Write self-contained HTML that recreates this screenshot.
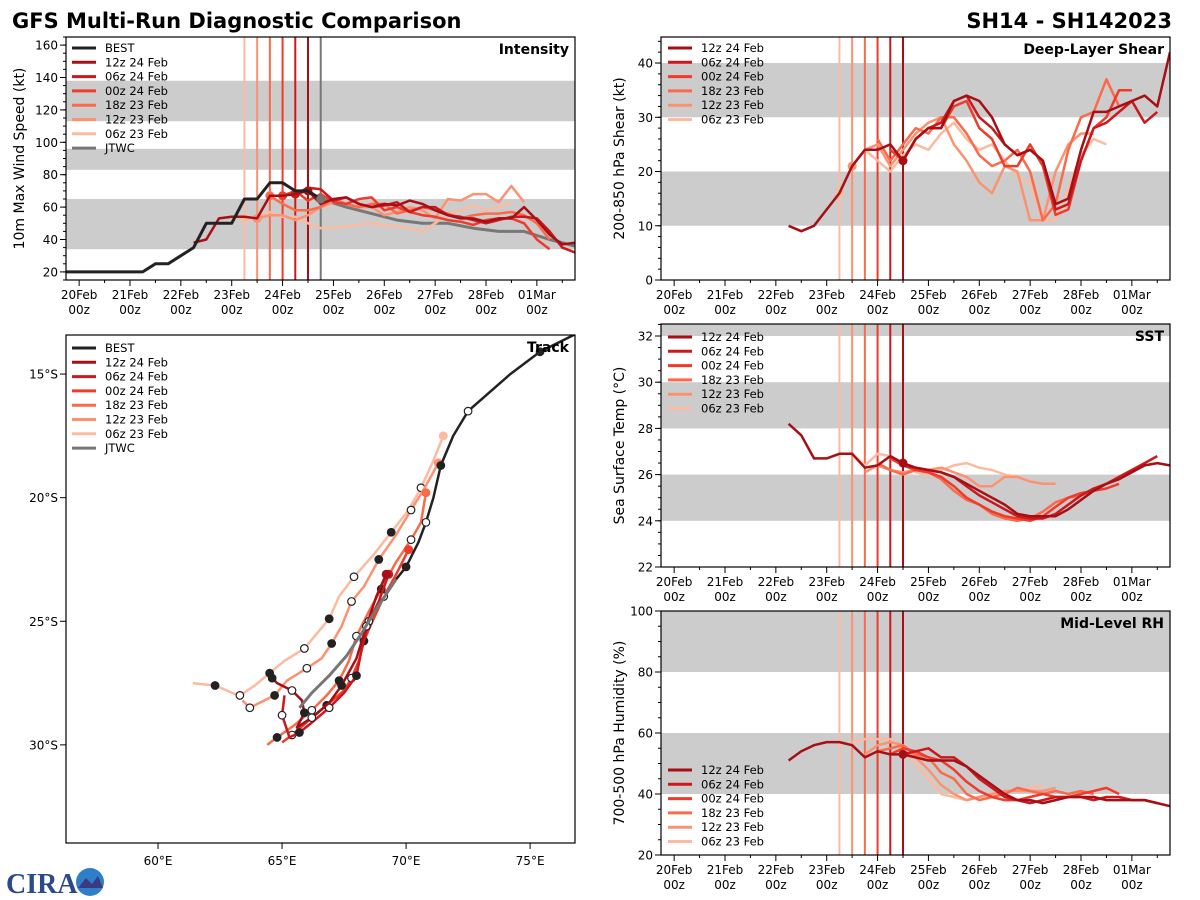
<!DOCTYPE html>
<html><head><meta charset="utf-8">
<style>
html,body{margin:0;padding:0;background:#fff;}
svg{display:block;font-family:"DejaVu Sans","Liberation Sans",sans-serif;}
</style></head>
<body>
<svg id="chart" width="1200" height="900" viewBox="0 0 1200 900" xmlns="http://www.w3.org/2000/svg">
<text x="12" y="28" font-size="21" font-weight="bold">GFS Multi-Run Diagnostic Comparison</text>
<text x="1172" y="28" font-size="21" font-weight="bold" text-anchor="end">SH14 - SH142023</text>
<g>
<text x="6" y="893" font-size="28" font-weight="bold" fill="#2a4a8a" font-family="Liberation Serif,serif">CIRA</text>
<circle cx="90" cy="882" r="14" fill="#2f7fc8"/>
<path d="M78 888 L86 878 L92 884 L98 876 L103 888 Z" fill="#3a3a80"/>
</g>
</svg>
<script>
const NS="http://www.w3.org/2000/svg";
const svg=document.getElementById('chart');
const colors=["#a50f15","#cb181d","#ef3b2c","#fb6a4a","#fc9272","#fcbba1"];
const modelNames=["12z 24 Feb","06z 24 Feb","00z 24 Feb","18z 23 Feb","12z 23 Feb","06z 23 Feb"];
const initHours=[108,102,96,90,84,78];
const dayLabels=["20Feb","21Feb","22Feb","23Feb","24Feb","25Feb","26Feb","27Feb","28Feb","01Mar"];

// Intensity
const bestHours=[-6,0,6,12,18,24,30,36,42,48,54,60,66,72,78,84,90,96,102,108,114];
const bestWind=[20,20,20,20,20,20,20,25,25,30,35,50,50,50,65,65,75,75,70,70,65];
const jtwcHours=[114,126,138,150,162,174,186,198,210,222,234];
const jtwcWind=[65,60,56,52,50,50,47,45,45,40,36];
const windStart=[54,102,96,90,84,78];
const wind12z24=[38,40,53,54,54,53,67,67,68,70,62,65,66,62,60,62,61,64,62,58,55,53,53,51,53,53,60,52,43,37,38,40];
const wind06z24=[68,72,71,64,66,62,60,61,63,57,60,60,55,54,52,50,52,54,54,53,45,35,32,30];
const wind00z24=[67,70,64,68,63,62,65,66,58,60,57,55,54,52,51,49,52,53,53,50,40,34];
const wind18z23=[67,62,58,58,60,65,62,60,62,62,56,58,60,58,56,53,55,56,56,57,55,50,40];
const wind12z23=[53,55,55,52,55,60,63,62,60,60,55,57,60,58,53,65,64,68,68,63,73,63];
const wind06z23=[53,53,57,54,54,50,47,47,48,49,50,49,48,47,45,50,56,58,61,58,60,63];
// Shear
const shearStart=[54,108,102,96,84,78];
const shear12z24=[10,9,10,13,16,21,24,24,25,22,26,28,28,33,34,33,30,25,23,24,22,14,15,24,31,31,32,33,34,32,42];
const shear06z24=[22,26,28,29,33,34,30,28,25,23,24,22,13,14,22,28,29,31,33,29,31];
const shear00z24=[24,22,26,28,28,32,33,28,26,21,21,25,21,12,13,22,28,30,35,35];
const shear18z23=[26,22,25,28,27,30,30,27,23,21,22,24,20,11,14,24,30,31,37,32];
const shear12z23=[21,24,25,21,24,27,29,30,25,22,18,16,21,20,11,11,20,25,27,27];
const shear06z23=[16,21,24,22,20,23,25,24,27,29,26,24,25,22,19,18,11,11,17,23,26,25];
// SST
const sstStart=[54,108,102,96,90,84];
const sst12z24=[28.2,27.7,26.7,26.7,26.9,26.9,26.3,26.4,26.8,26.5,26.3,26.2,26.1,25.9,25.6,25.3,25.0,24.7,24.3,24.2,24.2,24.2,24.5,24.9,25.3,25.6,25.8,26.1,26.4,26.5,26.4,26.1];
const sst06z24=[26.4,26.3,26.2,26.1,25.9,25.5,25.1,24.8,24.5,24.2,24.1,24.1,24.3,24.7,25.1,25.4,25.6,25.9,26.2,26.5,26.8];
const sst00z24=[26.7,26.4,26.2,26.1,25.9,25.5,25.0,24.7,24.4,24.2,24.1,24.0,24.2,24.6,25.0,25.2,25.3,25.4,25.6];
const sst18z23=[26.5,26.2,26.0,26.2,26.1,25.8,25.3,24.9,24.7,24.3,24.1,24.0,24.1,24.4,24.8,25.0,25.1,25.3];
const sst12z23=[26.1,26.4,26.2,26.1,26.2,26.2,26.3,26.1,25.9,25.5,25.5,25.9,25.9,25.7,25.6,25.6];
const sst06z23=[26.9,26.4,26.9,26.8,26.5,26.1,26.0,26.2,26.4,26.5,26.3,26.2,26.0,25.9,25.7,25.6];
// RH
const rhStart=[54,108,102,96,90,84];
const rh12z24=[51,54,56,57,57,56,52,54,53,53,52,51,51,51,49,46,43,40,38,38,37,38,39,39,39,38,38,38,38,37,36,37];
const rh06z24=[53,54,55,52,52,49,45,42,39,38,37,38,39,39,39,38,39,39,38,38,37];
const rh00z24=[53,55,54,52,51,48,44,41,39,38,38,39,40,39,39,40,41,42,40];
const rh18z23=[54,55,56,53,52,47,45,40,38,39,40,42,41,40,41,40,41,40];
const rh12z23=[53,56,57,56,52,48,43,40,38,39,40,41,41,41,41,42];
const rh06z23=[57,58,58,58,54,50,45,40,39,38,39,40,41,41,42,43];
// Track (lon, lat)
const trackBest=[[77.0,-13.3],[75.4,-14.1],[74.2,-15.0],[72.5,-16.5],[71.9,-17.5],[71.4,-18.7],[71.1,-20.0],[70.8,-21.0],[70.5,-21.8],[70.0,-22.8],[69.6,-23.3]];
const trackJtwc=[[69.6,-23.3],[68.8,-24.5],[68.2,-25.5],[67.6,-26.4],[66.9,-27.2],[66.2,-27.9],[65.7,-28.5]];
const track12z24=[[69.2,-23.1],[68.8,-24.0],[68.4,-25.2],[68.0,-26.5],[67.4,-27.6],[66.9,-28.3],[66.2,-28.9],[65.6,-29.3],[65.9,-28.7],[65.8,-28.2],[65.4,-27.8],[64.8,-27.5],[64.6,-27.3]];
const track06z24=[[69.3,-23.1],[68.9,-24.2],[68.5,-25.0],[68.2,-26.2],[68.0,-27.2],[67.5,-27.9],[66.9,-28.5],[66.2,-29.1],[65.7,-29.5],[65.3,-29.7],[65.0,-28.8],[65.1,-28.0]];
const track00z24=[[70.1,-22.1],[69.6,-23.1],[69.1,-24.0],[68.6,-25.1],[68.3,-25.8],[68.1,-26.6],[67.8,-27.3],[67.5,-27.8],[66.8,-28.4],[66.1,-29.0],[65.4,-29.6],[65.0,-29.9]];
const track18z23=[[70.8,-19.8],[70.6,-21.0],[70.2,-21.7],[69.6,-22.6],[69.0,-23.7],[68.5,-24.6],[68.0,-25.6],[67.7,-26.6],[67.3,-27.4],[66.8,-28.0],[66.2,-28.6],[65.5,-29.2],[64.8,-29.7],[64.4,-30.0]];
const track12z23=[[71.3,-18.6],[70.7,-19.7],[70.2,-20.5],[69.6,-21.5],[68.9,-22.5],[68.3,-23.6],[67.8,-24.2],[67.4,-25.2],[67.0,-25.9],[66.6,-26.5],[66.0,-26.9],[65.2,-27.4],[64.7,-28.0],[64.1,-28.3],[63.7,-28.5],[63.4,-28.2]];
const track06z23=[[71.5,-17.5],[71.1,-18.5],[70.6,-19.6],[70.1,-20.5],[69.4,-21.4],[68.7,-22.3],[67.9,-23.2],[67.3,-24.0],[66.9,-24.9],[66.4,-25.5],[65.9,-26.1],[65.1,-26.6],[64.5,-27.1],[63.9,-27.6],[63.3,-28.0],[63.0,-27.9],[62.3,-27.6],[61.4,-27.5]];

function el(tag,attrs,parent,txt){const e=document.createElementNS(NS,tag);for(const k in attrs)e.setAttribute(k,attrs[k]);if(txt!==undefined)e.textContent=txt;(parent||svg).appendChild(e);return e;}

function makePanel(p){
  const g=el('g',{});
  
  
  p.g=g;
  p.sx=v=>p.x0+(v-p.xd[0])/(p.xd[1]-p.xd[0])*(p.x1-p.x0);
  p.sy=v=>p.y1-(v-p.yd[0])/(p.yd[1]-p.yd[0])*(p.y1-p.y0);
  const clipId='clip-'+p.name;
  const cp=el('clipPath',{id:clipId},g);
  el('rect',{x:p.x0,y:p.y0,width:p.x1-p.x0,height:p.y1-p.y0},cp);
  p.plot=el('g',{'clip-path':'url(#'+clipId+')'},g);
  (p.bands||[]).forEach(b=>{
    const r=el('rect',{x:p.x0,y:p.sy(Math.min(b[1],p.yd[1])),width:p.x1-p.x0,height:p.sy(b[0])-p.sy(Math.min(b[1],p.yd[1])),fill:'#cccccc'},p.plot);
    
    
  });
  return p;
}
function frame(p){
  el('rect',{x:p.x0,y:p.y0,width:p.x1-p.x0,height:p.y1-p.y0,fill:'none',stroke:'#000','stroke-width':1.2},p.g);
}
function timeAxis(p){
  const ax=el('g',{},p.g);
  
  
  for(let h=-12;h<=p.xd[1];h+=12){
    if(h<p.xd[0])continue;
    const x=p.sx(h);const major=h%24===0;
    el('line',{x1:x,x2:x,y1:p.y1,y2:p.y1+(major?6:3),stroke:'#000'},ax);
    if(major){const i=h/24;if(i<dayLabels.length){
      el('text',{x:x,y:p.y1+19,'font-size':12,'text-anchor':'middle'},ax,dayLabels[i]);
      el('text',{x:x,y:p.y1+34,'font-size':12,'text-anchor':'middle'},ax,'00z');}}
  }
}
function valueAxis(p,ticks,minorStep,title){
  const ax=el('g',{},p.g);
  
  
  for(let v=Math.ceil(p.yd[0]/minorStep)*minorStep;v<=p.yd[1];v+=minorStep){
    el('line',{x1:p.x0-3,x2:p.x0,y1:p.sy(v),y2:p.sy(v),stroke:'#000'},ax);
  }
  ticks.forEach(v=>{const y=p.sy(v);
    el('line',{x1:p.x0-6,x2:p.x0,y1:y,y2:y,stroke:'#000'},ax);
    el('text',{x:p.x0-8,y:y+4.5,'font-size':12,'text-anchor':'end'},ax,String(v));});
  const cy=(p.y0+p.y1)/2;
  const t=el('text',{x:p.titleX,y:cy,'font-size':14,'text-anchor':'middle',transform:'rotate(-90 '+p.titleX+' '+cy+')'},ax,title);
  
  
}
function panelLabel(p,txt){
  const t=el('text',{x:p.x1-6,y:p.y0+17,'font-size':14,'font-weight':'bold','text-anchor':'end'},p.g,txt);
  
  
}
function initLines(p,withJtwc){
  initHours.slice().reverse().forEach((h,ri)=>{
    const i=5-ri;
    const l=el('line',{x1:p.sx(h),x2:p.sx(h),y1:p.y0,y2:p.y1,stroke:colors[i],'stroke-width':2},p.plot);
    
    
  });
  if(withJtwc){const l=el('line',{x1:p.sx(114),x2:p.sx(114),y1:p.y0,y2:p.y1,stroke:'#777','stroke-width':2},p.plot);
    
    }
}
function series(p,hours,vals,color,name,w){
  const d=vals.map((v,k)=>(k?'L':'M')+p.sx(hours[k]).toFixed(1)+' '+p.sy(v).toFixed(1)).join(' ');
  const path=el('path',{d:d,fill:'none',stroke:color,'stroke-width':w||2.5,'stroke-linejoin':'round'},p.plot);
  
  
}
function modelSeries(p,starts,arrs,withDot){
  for(let i=5;i>=0;i--){
    const hrs=arrs[i].map((v,k)=>starts[i]+6*k);
    series(p,hrs,arrs[i],colors[i],'series-'+modelNames[i].replace(/ /g,'-').toLowerCase());
    if(withDot){const k=(initHours[i]-starts[i])/6;
      if(k>=0&&k<arrs[i].length){const c=el('circle',{cx:p.sx(initHours[i]),cy:p.sy(arrs[i][k]),r:4.5,fill:colors[i]},p.plot);
        
        }}
  }
}
function legend(p,x,y,items){
  const g=el('g',{},p.g);
  
  
  items.forEach((it,k)=>{const yy=y+k*14.3;
    const e=el('g',{},g);
    
    
    el('line',{x1:x,x2:x+24,y1:yy,y2:yy,stroke:it[1],'stroke-width':3},e);
    el('text',{x:x+33,y:yy+4,'font-size':11.5},e,it[0]);});
}
const modelItems=modelNames.map((n,i)=>[n,colors[i]]);

// Intensity panel
const P1=makePanel({name:'intensity-panel',x0:66,x1:575,y0:37,y1:280,xd:[-6.2,234],yd:[15,165],titleX:24,bands:[[34,65],[83,96],[113,138]]});
initLines(P1,true);
series(P1,jtwcHours,jtwcWind,'#777','series-jtwc',3);
modelSeries(P1,windStart,[wind12z24,wind06z24,wind00z24,wind18z23,wind12z23,wind06z23],true);
series(P1,bestHours,bestWind,'#222','series-best',3);
{const c=el('circle',{cx:P1.sx(114),cy:P1.sy(65),r:4.5,fill:'#777'},P1.plot);}
frame(P1);timeAxis(P1);valueAxis(P1,[20,40,60,80,100,120,140,160],5,'10m Max Wind Speed (kt)');
panelLabel(P1,'Intensity');
legend(P1,72,48,[['BEST','#222'],...modelItems,['JTWC','#777']]);

// Shear
const P2=makePanel({name:'shear-panel',x0:661,x1:1170,y0:37,y1:280,xd:[-6.2,234],yd:[0,44.8],titleX:624,bands:[[10,20],[30,40]]});
initLines(P2,false);
modelSeries(P2,shearStart,[shear12z24,shear06z24,shear00z24,shear18z23,shear12z23,shear06z23],true);
frame(P2);timeAxis(P2);valueAxis(P2,[0,10,20,30,40],2,'200-850 hPa Shear (kt)');
panelLabel(P2,'Deep-Layer Shear');
legend(P2,668,48,modelItems);

// SST
const P3=makePanel({name:'sst-panel',x0:661,x1:1170,y0:324,y1:567,xd:[-6.2,234],yd:[22,32.52],titleX:624,bands:[[24,26],[28,30],[32,33]]});
initLines(P3,false);
modelSeries(P3,sstStart,[sst12z24,sst06z24,sst00z24,sst18z23,sst12z23,sst06z23],true);
frame(P3);timeAxis(P3);valueAxis(P3,[22,24,26,28,30,32],0.5,'Sea Surface Temp (°C)');
panelLabel(P3,'SST');
legend(P3,668,337,modelItems);

// RH
const P4=makePanel({name:'rh-panel',x0:661,x1:1170,y0:611,y1:855,xd:[-6.2,234],yd:[20,100],titleX:624,bands:[[40,60],[80,100]]});
initLines(P4,false);
modelSeries(P4,rhStart,[rh12z24,rh06z24,rh00z24,rh18z23,rh12z23,rh06z23],true);
frame(P4);timeAxis(P4);valueAxis(P4,[20,40,60,80,100],5,'700-500 hPa Humidity (%)');
panelLabel(P4,'Mid-Level RH');
legend(P4,668,770,modelItems);

// Track
const P5=makePanel({name:'track-panel',x0:66,x1:575,y0:335,y1:843,xd:[56.29,76.81],yd:[-33.97,-13.42],titleX:0,bands:[]});
function trackLine(pts,color,name,w,markers){
  const d=pts.map((q,k)=>(k?'L':'M')+P5.sx(q[0]).toFixed(1)+' '+P5.sy(q[1]).toFixed(1)).join(' ');
  const path=el('path',{d:d,fill:'none',stroke:color,'stroke-width':w,'stroke-linejoin':'round'},P5.plot);
  
  
  if(markers){pts.forEach((q,k)=>{if(k===0||k%2)return;
    const c=el('circle',{cx:P5.sx(q[0]),cy:P5.sy(q[1]),r:3.8,fill:(k%4===0)?'#222':'#fff',stroke:'#222','stroke-width':1.2},P5.plot);
    
    });
    const s=el('circle',{cx:P5.sx(pts[0][0]),cy:P5.sy(pts[0][1]),r:4.5,fill:color},P5.plot);
    
    }
}
const tracks=[track12z24,track06z24,track00z24,track18z23,track12z23,track06z23];
for(let i=5;i>=0;i--)trackLine(tracks[i],colors[i],'track-'+modelNames[i].replace(/ /g,'-').toLowerCase(),2.5,true);
trackLine(trackJtwc,'#777','track-jtwc',3,false);
trackLine(trackBest,'#222','track-best',2.5,false);
trackBest.forEach((q,k)=>{if(k%2===0)return;const c=el('circle',{cx:P5.sx(q[0]),cy:P5.sy(q[1]),r:3.8,fill:(k%4===1)?'#222':'#fff',stroke:'#222','stroke-width':1.2},P5.plot);});
frame(P5);
{const ax=el('g',{},P5.g);
[60,65,70,75].forEach(v=>{const x=P5.sx(v);el('line',{x1:x,x2:x,y1:P5.y1,y2:P5.y1+6,stroke:'#000'},ax);el('text',{x:x,y:P5.y1+22,'font-size':12,'text-anchor':'middle'},ax,v+'°E');});
const ay=el('g',{},P5.g);
[-15,-20,-25,-30].forEach(v=>{const y=P5.sy(v);el('line',{x1:P5.x0-6,x2:P5.x0,y1:y,y2:y,stroke:'#000'},ay);el('text',{x:P5.x0-8,y:y+4.5,'font-size':12,'text-anchor':'end'},ay,(-v)+'°S');});}
panelLabel(P5,'Track');
legend(P5,72,348,[['BEST','#222'],...modelItems,['JTWC','#777']]);
</script>
</body></html>
